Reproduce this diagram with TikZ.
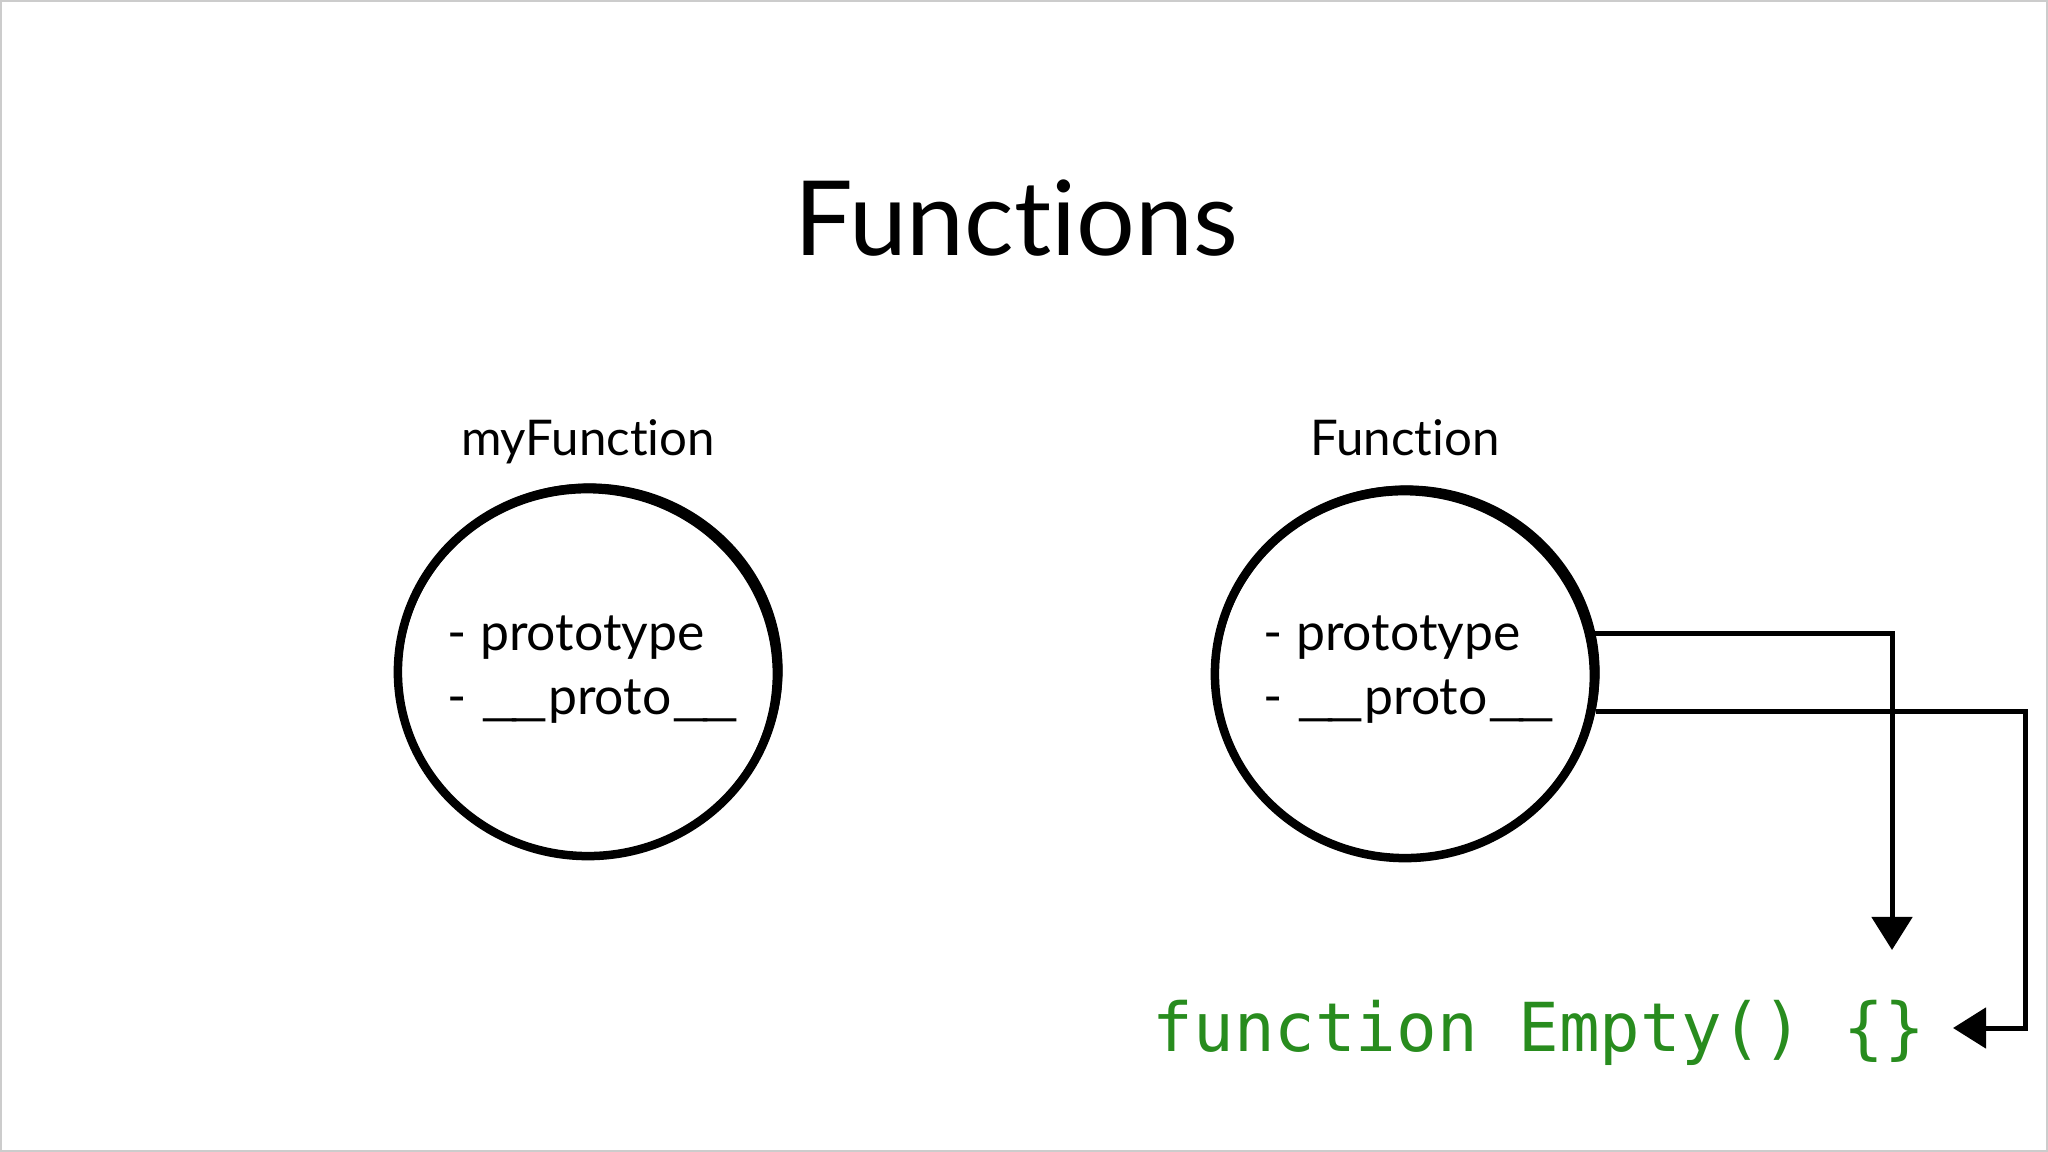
\documentclass[tikz,border=0pt]{standalone}
\usepackage{fontspec}
\setmainfont{Lato}[Ligatures=NoCommon]
\setmonofont{DejaVu Sans Mono}
\usetikzlibrary{arrows.meta,calc,shapes.geometric}
\definecolor{codegreen}{RGB}{40,140,30}
\newcommand{\uline}{\scalebox{1.65}[1]{\_\kern-0.12em\_}}
\tikzset{
  ring/.style={draw, ellipse, line width=0.85mm, minimum width=3.8cm, minimum height=3.68cm, inner sep=0pt},
  brush/.style={line width=0.3mm},
  field/.style={anchor=base west, inner sep=0pt, font=\fontsize{14.7}{18}\selectfont},
  caption/.style={anchor=base, inner sep=0pt, font=\fontsize{14}{17}\selectfont},
  link/.style={line width=0.5mm, -{Triangle[width=4mm,length=3.3mm]}},
}
\begin{document}
\begin{tikzpicture}[x=0.01cm,y=-0.01cm]
	\useasboundingbox (0,0) rectangle (2048,1152);
	\draw[gray!40, line width=0.2mm] (1,1) rectangle (2047,1151);

	\node[anchor=base, inner sep=0pt, font=\fontsize{29.5}{36}\selectfont] (title) at (1016,256) {Functions};

	% the two objects
	\node[ring] (myfn) at (588,672) {};
	\node[ring] (fn) at (1405,674) {};
	\foreach \obj in {myfn,fn} {
		\draw[brush] ($(\obj.center)+(2,-2)$) ellipse [x radius=1.91cm, y radius=1.85cm];
		\draw[brush] ($(\obj.center)+(-1,2)$) ellipse [x radius=1.87cm, y radius=1.82cm];
	}

	\node[caption] (myfnname) at (588,456) {myFunction};
	\node[caption] (fnname) at (1405,456) {Function};

	\node[field] (myfnproto) at (447,650) {- prototype};
	\node[field] (myfnunder) at (447,715) {- \uline proto\uline};
	\node[field] (fnproto) at (1263,650) {- prototype};
	\node[field] (fnunder) at (1263,715) {- \uline proto\uline};

	\node[anchor=base west, inner sep=0pt, text=codegreen, font=\ttfamily\fontsize{19.2}{23}\selectfont] (empty) at (1152,1051) {function Empty() \{\}};

	% links to Empty
	\coordinate (tip1) at (1892,950);
	\coordinate (bend2) at (2025,1028);
	\coordinate (tip2) at (1953,1028);
	\draw[link] (fn.12) -| (tip1);
	\draw[link] (fn.-11) -| (bend2) -- (tip2);
\end{tikzpicture}
\end{document}
